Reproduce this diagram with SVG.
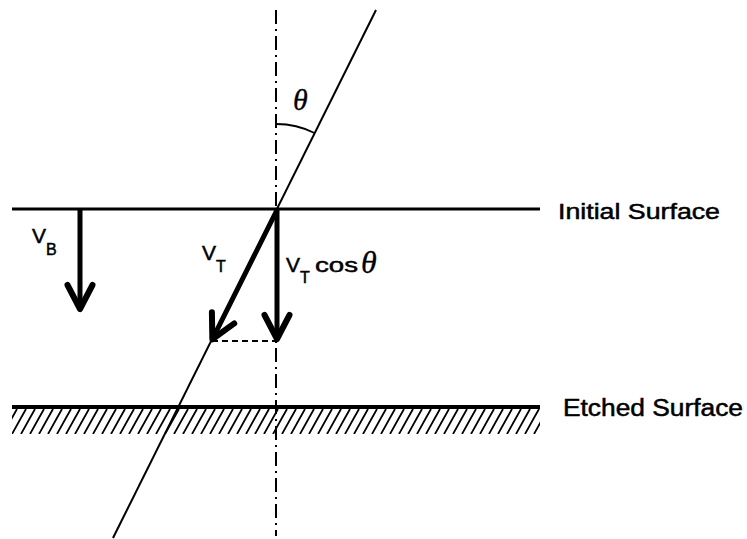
<svg xmlns="http://www.w3.org/2000/svg" width="747" height="539" viewBox="0 0 747 539">
<style>
.lbl{font-family:"Liberation Sans",Arial,sans-serif;fill:#000;stroke:#000;stroke-width:0.5}
.th{font-family:"Liberation Serif","Times New Roman",serif;font-style:italic;fill:#000;stroke:#000;stroke-width:0.3}
.arr{stroke:#000;stroke-width:5;fill:none}
.thin{stroke:#000;fill:none}
</style>
<defs>
<pattern id="hatch" patternUnits="userSpaceOnUse" x="12" y="409" width="9" height="25">
<path d="M-9,25 L5,0 M0,25 L14,0 M9,25 L23,0" stroke="#000" stroke-width="1.8"/>
</pattern>
<marker id="head" markerUnits="userSpaceOnUse" viewBox="-32 -18 38 36" refX="0" refY="0" markerWidth="38" markerHeight="36" orient="auto" overflow="visible">
<path d="M-23,-12.5 L1,0 L-23,12.5" fill="none" stroke="#000" stroke-width="6" stroke-linejoin="round" stroke-linecap="round"/>
</marker>
</defs>
<rect width="747" height="539" fill="#fff"/>
<g id="surfaces">
<g id="initial-surface">
<line x1="12" y1="209" x2="540" y2="209" class="thin" stroke-width="2.8"/>
<text class="lbl" x="558" y="219" font-size="22" textLength="162" lengthAdjust="spacingAndGlyphs">Initial Surface</text>
</g>
<g id="etched-surface">
<rect x="12" y="409" width="528" height="25" fill="url(#hatch)"/>
<line x1="12" y1="407" x2="540" y2="407" class="thin" stroke-width="4"/>
<text class="lbl" x="563" y="416" font-size="23" textLength="180" lengthAdjust="spacingAndGlyphs">Etched Surface</text>
</g>
</g>
<g id="connectors">
<line id="normal-axis" x1="276" y1="10" x2="276" y2="536" class="thin" stroke-width="2" stroke-dasharray="14 5 2 5"/>
<line id="track-line" x1="376" y1="10" x2="113" y2="538" class="thin" stroke-width="2"/>
<path id="angle-arc" d="M276,124 A85,85 0 0 1 314.5,133" class="thin" stroke-width="1.8"/>
<line id="projection" x1="212" y1="341" x2="276" y2="341" class="thin" stroke-width="1.8" stroke-dasharray="6 4"/>
<line id="vb-arrow" x1="80" y1="209" x2="80" y2="308" class="arr" marker-end="url(#head)"/>
<line id="vt-arrow" x1="277" y1="210" x2="212.8" y2="338.4" class="arr" marker-end="url(#head)"/>
<line id="vtcos-arrow" x1="277" y1="210" x2="277" y2="338" class="arr" marker-end="url(#head)"/>
</g>
<g id="label-theta">
<text class="th" x="293" y="110" font-size="30">θ</text>
</g>
<g id="label-vb">
<text class="lbl" font-size="21"><tspan x="32" y="243">V</tspan><tspan x="46" y="255" font-size="16">B</tspan></text>
</g>
<g id="label-vt">
<text class="lbl" font-size="21"><tspan x="202" y="260">V</tspan><tspan x="216" y="272" font-size="16">T</tspan></text>
</g>
<g id="label-vtcos">
<text class="lbl" font-size="21"><tspan x="286" y="272">V</tspan><tspan x="300" y="283" font-size="16">T</tspan><tspan x="315" y="272" textLength="43" lengthAdjust="spacingAndGlyphs">cos</tspan></text>
<text class="th" x="361" y="273" font-size="32">θ</text>
</g>
</svg>
